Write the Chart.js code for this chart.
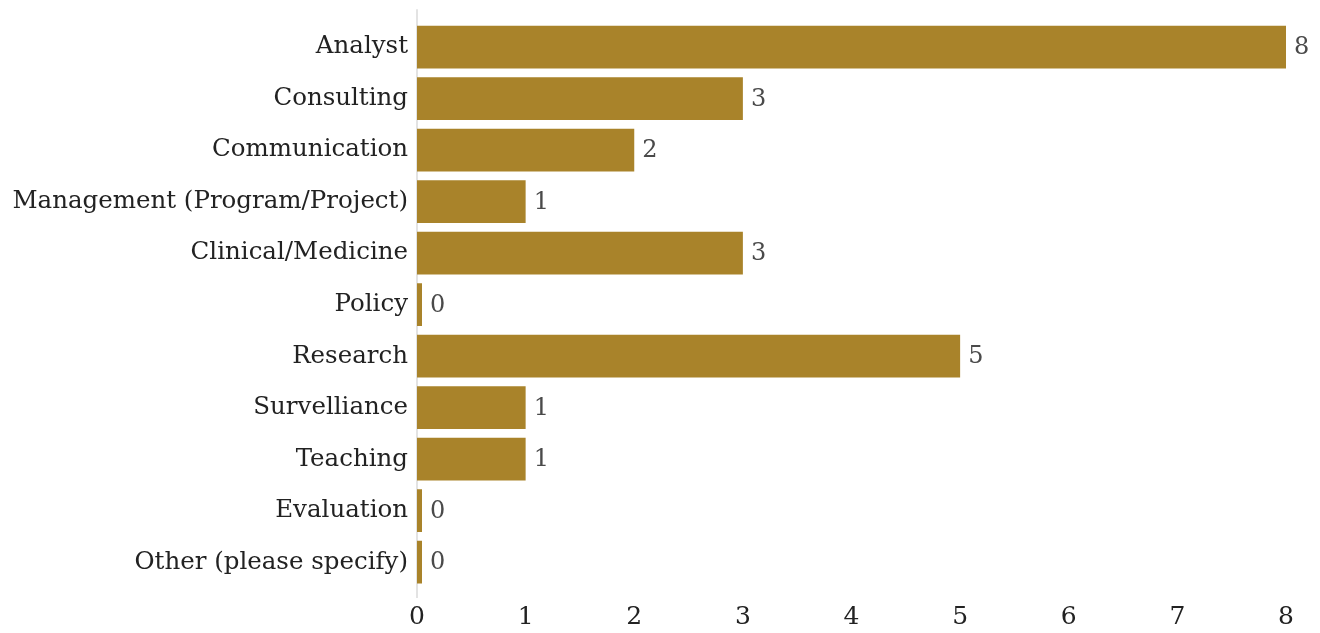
<!DOCTYPE html>
<html>
<head>
<meta charset="utf-8">
<script src="https://cdn.jsdelivr.net/npm/chart.js@4/dist/chart.umd.min.js"></script>
<style>
  html, body { margin: 0; padding: 0; background: #fff; }
  .wrap { width: 1320px; height: 633px; position: relative; }
</style>
</head>
<body>
<div class="wrap"><canvas id="roleChart"></canvas></div>
<script>
// data
const categories = ['Analyst', 'Consulting', 'Communication', 'Management (Program/Project)',
  'Clinical/Medicine', 'Policy', 'Research', 'Survelliance', 'Teaching', 'Evaluation',
  'Other (please specify)'];
const counts = [8, 3, 2, 1, 3, 0, 5, 1, 1, 0, 0];
const xTicks = [0, 1, 2, 3, 4, 5, 6, 7, 8];

const FONT = "'DejaVu Serif', 'Liberation Serif', serif";

// zero line that sticks out a bit above and below the plot
const zeroLine = {
  id: 'zeroLine',
  beforeDatasetsDraw(chart) {
    const x = chart.scales.x.getPixelForValue(0);
    const ctx = chart.ctx;
    ctx.save();
    ctx.strokeStyle = '#e3e3e3';
    ctx.lineWidth = 2;
    ctx.beginPath();
    ctx.moveTo(x, chart.chartArea.top - 12);
    ctx.lineTo(x, chart.chartArea.bottom + 10);
    ctx.stroke();
    ctx.restore();
  }
};

// value labels at the end of each bar
const valueLabels = {
  id: 'valueLabels',
  afterDatasetsDraw(chart) {
    const ctx = chart.ctx;
    const meta = chart.getDatasetMeta(0);
    ctx.save();
    ctx.font = '24px ' + FONT;
    ctx.fillStyle = '#4a4a4a';
    ctx.textAlign = 'left';
    ctx.textBaseline = 'middle';
    meta.data.forEach((bar, i) => {
      ctx.fillText(String(counts[i]), bar.x + 8, bar.y + 1);
    });
    ctx.restore();
  }
};

new Chart(document.getElementById('roleChart'), {
  type: 'bar',
  data: {
    labels: categories,
    datasets: [{
      data: counts,
      backgroundColor: '#a9832a',
      borderWidth: 0,
      barPercentage: 0.83,
      categoryPercentage: 1,
      minBarLength: 5
    }]
  },
  options: {
    indexAxis: 'y',
    responsive: true,
    maintainAspectRatio: false,
    animation: false,
    layout: { padding: { top: 20, right: 34, left: 0, bottom: 0 } },
    plugins: {
      legend: { display: false },
      tooltip: { enabled: false }
    },
    scales: {
      x: {
        min: 0,
        max: 8,
        afterBuildTicks: scale => { scale.ticks = xTicks.map(v => ({ value: v })); },
        afterFit: scale => { scale.height = 45; },
        grid: { display: false, drawTicks: false },
        border: { display: false },
        ticks: { color: '#222', padding: 17, font: { family: FONT, size: 25, lineHeight: 1 } }
      },
      y: {
        afterFit: scale => { scale.width = 417; },
        grid: { display: false, drawTicks: false },
        border: { display: false },
        ticks: { color: '#222', padding: 9, font: { family: FONT, size: 24.5, lineHeight: 1 } }
      }
    }
  },
  plugins: [zeroLine, valueLabels]
});
</script>
</body>
</html>
